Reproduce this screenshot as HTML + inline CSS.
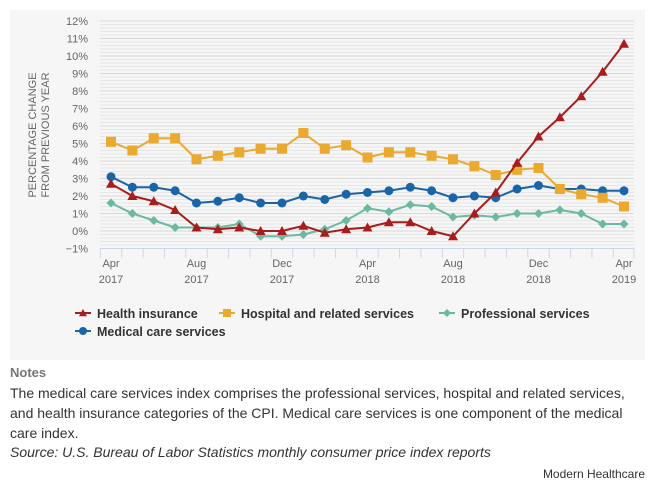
<!DOCTYPE html>
<html><head><meta charset="utf-8"><style>
body{margin:0;width:653px;height:490px;background:#fff;font-family:"Liberation Sans",sans-serif;overflow:hidden;position:relative}
#panel{position:absolute;left:10px;top:10px;width:635px;height:350px;background:#f6f6f6}
.note{position:absolute;left:10px;font-size:14px;color:#333;line-height:20px}
</style></head><body>
<div id="panel"></div>
<svg id="chart" width="653" height="360" style="position:absolute;left:0;top:0"></svg>
<div class="note" style="top:363px;color:#777;font-weight:bold;font-size:13px">Notes</div>
<div class="note" style="top:383px;width:640px">The medical care services index comprises the professional services, hospital and related services, and health insurance categories of the CPI. Medical care services is one component of the medical care index.</div>
<div class="note" style="top:442px;font-style:italic">Source: U.S. Bureau of Labor Statistics monthly consumer price index reports</div>
<div class="note" style="top:464px;left:auto;right:8px;font-size:12px">Modern Healthcare</div>
<script>
const months = 25;
const xLabels = [["Apr","2017",0],["Aug","2017",4],["Dec","2017",8],["Apr","2018",12],["Aug","2018",16],["Dec","2018",20],["Apr","2019",24]];
const yTicks = [-1,0,1,2,3,4,5,6,7,8,9,10,11,12];
const healthIns = [2.7,2.0,1.7,1.2,0.2,0.1,0.2,0.0,0.0,0.3,-0.1,0.1,0.2,0.5,0.5,0.0,-0.3,1.0,2.2,3.9,5.4,6.5,7.7,9.1,10.7];
const hospital = [5.1,4.6,5.3,5.3,4.1,4.3,4.5,4.7,4.7,5.6,4.7,4.9,4.2,4.5,4.5,4.3,4.1,3.7,3.2,3.5,3.6,2.4,2.1,1.9,1.4];
const professional = [1.6,1.0,0.6,0.2,0.2,0.2,0.4,-0.3,-0.3,-0.2,0.1,0.6,1.3,1.1,1.5,1.4,0.8,0.9,0.8,1.0,1.0,1.2,1.0,0.4,0.4];
const medical = [3.1,2.5,2.5,2.3,1.6,1.7,1.9,1.6,1.6,2.0,1.8,2.1,2.2,2.3,2.5,2.3,1.9,2.0,1.9,2.4,2.6,2.4,2.4,2.3,2.3];
const svg=document.getElementById('chart');const NS='http://www.w3.org/2000/svg';
const X0=111,X1=624,Y0=231,PER=17.5;
const x=i=>X0+(X1-X0)*i/(months-1);
const y=v=>Y0-v*PER;
function mk(t,a,p){const e=document.createElementNS(NS,t);for(const k in a)e.setAttribute(k,a[k]);(p||svg).appendChild(e);return e;}
for(let v=-1;v<=12.001;v+=0.2){const l=mk('line',{x1:100,x2:634,y1:y(v),y2:y(v),stroke:'#e6e6e6','stroke-width':1});

}
yTicks.forEach(v=>{const l=mk('line',{x1:100,x2:634,y1:y(v),y2:y(v),stroke:'#d8d8d8'});


const t=mk('text',{x:88,y:y(v)+4,'text-anchor':'end','font-size':11,fill:'#666'});t.textContent=(v<0?'\u22121':v)+'%';

});
mk('line',{x1:100,x2:634,y1:248.5,y2:248.5,stroke:'#ccd6eb'});
for(let i=0;i<months;i++){const xx=x(i)-10.7;const tk=mk('line',{x1:xx,x2:xx,y1:248,y2:258,stroke:'#ccd6eb'});

}
mk('line',{x1:634,x2:634,y1:248,y2:258,stroke:'#ccd6eb'});
xLabels.forEach(([m,yr,i])=>{[m,yr].forEach((s,k)=>{const t=mk('text',{x:x(i),y:267+k*16,'text-anchor':'middle','font-size':11,fill:'#666'});t.textContent=s;

});});
const yt=mk('text',{transform:'translate(36,135) rotate(-90)','text-anchor':'middle','font-size':11,fill:'#666'});


['PERCENTAGE CHANGE','FROM PREVIOUS YEAR'].forEach((s,k)=>{const ts=mk('tspan',{x:0,dy:k?13:0},yt);ts.textContent=s;});
function marker(g,shape,cx,cy,c,s){if(shape==='tri')mk('path',{d:`M${cx},${cy-s}L${cx+s},${cy+s*0.8}L${cx-s},${cy+s*0.8}Z`,fill:c},g);
else if(shape==='sq')mk('rect',{x:cx-s,y:cy-s,width:2*s,height:2*s,fill:c},g);
else if(shape==='dia')mk('path',{d:`M${cx},${cy-s}L${cx+s},${cy}L${cx},${cy+s}L${cx-s},${cy}Z`,fill:c},g);
else mk('circle',{cx,cy,r:s,fill:c},g);}
const series=[['professional-services',professional,'#6bb8a3','dia',4.5],['medical-care-services',medical,'#1a64a8','circ',4.5],['hospital-services',hospital,'#eaa92f','sq',5],['health-insurance',healthIns,'#a91c1c','tri',5]];
series.forEach(([n,d,c,sh,s])=>{const g=mk('g',{});


mk('polyline',{points:d.map((v,i)=>x(i)+','+y(v)).join(' '),fill:'none',stroke:c,'stroke-width':2},g);
d.forEach((v,i)=>marker(g,sh,x(i),y(v),c,s));});
const leg=[['Health insurance','#a91c1c','tri',76,317],['Hospital and related services','#eaa92f','sq',220,317],['Professional services','#6bb8a3','dia',440,317],['Medical care services','#1a64a8','circ',76,335]];
leg.forEach(([n,c,sh,lx,ly])=>{const g=mk('g',{});


mk('line',{x1:lx-1,x2:lx+15,y1:ly-4,y2:ly-4,stroke:c,'stroke-width':2},g);marker(g,sh,lx+7,ly-4,c,4);
const t=mk('text',{x:lx+21,y:ly+1,'font-size':12.5,'font-weight':'bold',fill:'#333'},g);t.textContent=n;});
</script>
</body></html>
